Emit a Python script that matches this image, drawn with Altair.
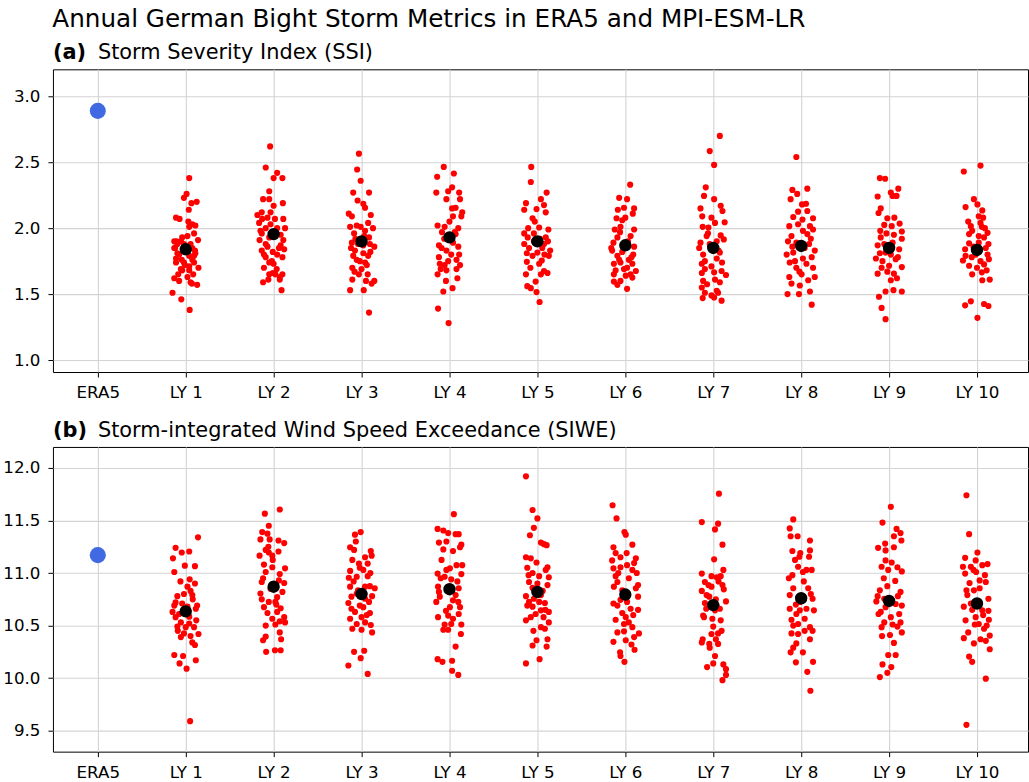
import altair as alt
import pandas as pd

categories = ["ERA5", "LY 1", "LY 2", "LY 3", "LY 4", "LY 5", "LY 6", "LY 7", "LY 8", "LY 9", "LY 10"]
main_title = "Annual German Bight Storm Metrics in ERA5 and MPI-ESM-LR"
panel_tags = ["(a)", "(b)"]
panel_names = ["Storm Severity Index (SSI)", "Storm-integrated Wind Speed Exceedance (SIWE)"]

era5_ssi = 2.89
era5_siwe = 11.17
mean_ssi = [1.84, 1.955, 1.90, 1.93, 1.90, 1.87, 1.85, 1.865, 1.85, 1.835]
mean_siwe = [10.635, 10.87, 10.80, 10.846, 10.82, 10.795, 10.695, 10.76, 10.734, 10.71]

# (jitter offset in category units, value)
ssi_ly1 = [(0.04,2.38),(0.01,2.26),(-0.02,2.23),(0.125,2.20),(0.065,2.19),(0.035,2.14),(-0.11,2.08),(-0.07,2.07),(0.03,2.05),(0.075,2.03),(0.11,2.02),(0.04,2.01),(0.095,1.96),(0.14,1.91),(-0.13,1.90),(-0.105,1.90),(-0.04,1.93),(0.02,1.94),(-0.12,1.85),(0.055,1.88),(0.105,1.83),(-0.075,1.80),(0.04,1.79),(0.075,1.76),(-0.11,1.74),(-0.02,1.74),(-0.055,1.69),(0.095,1.74),(0.145,1.70),(0.04,1.68),(-0.04,1.68),(0.085,1.65),(-0.13,1.62),(-0.075,1.60),(0.02,1.63),(0.055,1.59),(0.13,1.57),(-0.15,1.51),(-0.05,1.46),(0.045,1.38),(-0.095,1.81),(0.01,1.83),(-0.045,1.76),(-0.01,1.72),(0.04,1.71),(-0.085,1.65),(0.07,1.58),(-0.13,1.85),(-0.095,1.88),(-0.055,1.90),(0.095,1.79),(0.11,1.81),(-0.02,1.88),(0.075,1.85),(-0.11,1.77)]
ssi_ly2 = [(-0.04,2.62),(-0.09,2.46),(0.04,2.42),(0.10,2.38),(0.0,2.38),(-0.05,2.28),(-0.12,2.22),(-0.05,2.22),(0.105,2.19),(0.0,2.17),(-0.135,2.12),(-0.035,2.12),(0.11,2.07),(-0.13,2.07),(-0.07,2.08),(0.015,2.07),(-0.165,2.04),(0.13,2.00),(-0.09,2.00),(-0.135,1.96),(0.08,1.95),(0.11,1.91),(-0.05,1.93),(-0.09,1.88),(0.08,1.87),(-0.135,1.83),(-0.01,1.82),(0.04,1.80),(0.10,1.78),(-0.09,1.78),(-0.05,1.74),(-0.02,1.75),(-0.11,1.70),(0.035,1.69),(0.10,1.65),(-0.05,1.65),(-0.01,1.66),(0.07,1.63),(-0.06,1.61),(-0.12,1.59),(0.07,1.61),(0.09,1.53),(-0.185,2.10),(-0.035,2.03),(0.04,2.00),(-0.16,1.91),(-0.11,1.80),(0.0,1.73),(0.02,1.65),(-0.15,1.98),(0.06,1.85),(-0.07,1.86),(0.12,1.84),(-0.02,1.96)]
ssi_ly3 = [(-0.03,2.565),(-0.05,2.445),(-0.01,2.36),(-0.095,2.27),(0.085,2.27),(-0.045,2.21),(0.02,2.185),(0.04,2.155),(-0.145,2.11),(-0.11,2.09),(0.105,2.10),(0.075,2.04),(-0.055,2.02),(-0.13,2.01),(0.13,2.00),(-0.085,1.96),(0.04,1.98),(0.085,1.93),(-0.11,1.89),(0.145,1.86),(-0.075,1.83),(0.02,1.81),(0.075,1.79),(-0.055,1.76),(0.04,1.74),(-0.105,1.70),(0.0,1.69),(0.07,1.65),(-0.03,1.65),(-0.105,1.61),(0.05,1.60),(0.145,1.60),(0.115,1.58),(-0.13,1.53),(0.025,1.53),(0.085,1.36),(-0.01,2.01),(-0.04,1.88),(0.095,1.88),(-0.095,1.79),(-0.02,1.75),(0.02,1.87),(-0.07,1.92),(0.06,1.72),(-0.08,1.67),(0.10,1.82),(-0.12,1.85),(0.03,1.94)]
ssi_ly4 = [(-0.065,2.465),(0.05,2.415),(-0.14,2.39),(-0.15,2.27),(-0.015,2.28),(0.03,2.31),(-0.035,2.22),(0.11,2.27),(0.12,2.22),(0.07,2.155),(0.145,2.12),(0.135,2.09),(0.04,2.09),(-0.135,2.02),(-0.055,2.01),(0.10,2.00),(0.07,1.955),(-0.06,1.92),(-0.12,1.87),(0.10,1.86),(-0.035,1.83),(0.02,1.80),(-0.12,1.78),(0.08,1.76),(0.12,1.72),(-0.11,1.73),(-0.135,1.65),(-0.035,1.68),(0.08,1.69),(0.035,1.545),(-0.07,1.52),(-0.13,1.39),(-0.01,1.28),(-0.085,1.97),(0.04,1.89),(-0.015,1.75),(-0.055,1.72),(0.06,1.97),(-0.09,1.85),(0.11,1.80),(0.0,2.05),(-0.10,1.69),(0.09,1.62),(0.03,2.15),(-0.04,1.60)]
ssi_ly5 = [(-0.07,2.465),(-0.075,2.35),(0.105,2.27),(-0.13,2.19),(0.04,2.22),(0.075,2.175),(-0.15,2.14),(-0.01,2.145),(0.095,2.12),(-0.055,2.075),(-0.105,2.0),(0.02,2.005),(0.125,1.99),(-0.15,1.96),(0.095,1.93),(-0.04,1.96),(-0.15,1.88),(0.075,1.88),(0.145,1.83),(-0.12,1.81),(0.0,1.815),(0.13,1.79),(0.05,1.755),(-0.12,1.745),(-0.055,1.79),(-0.13,1.65),(0.075,1.675),(0.115,1.66),(-0.02,1.595),(-0.115,1.56),(-0.075,1.545),(-0.01,1.515),(0.025,1.44),(-0.04,1.90),(0.055,1.85),(-0.095,1.85),(0.02,1.73),(0.04,1.65),(0.03,1.92),(-0.08,1.70),(0.12,1.90),(-0.03,2.05),(0.08,1.80),(-0.11,1.93)]
ssi_ly6 = [(0.055,2.33),(-0.07,2.23),(0.02,2.22),(0.10,2.15),(-0.085,2.14),(-0.015,2.155),(0.085,2.11),(-0.10,2.075),(-0.035,2.06),(-0.055,2.01),(-0.12,1.99),(0.10,1.99),(0.06,1.94),(-0.09,1.93),(-0.135,1.89),(0.10,1.86),(-0.15,1.83),(-0.035,1.82),(-0.09,1.79),(0.04,1.76),(-0.055,1.74),(0.08,1.73),(0.12,1.675),(-0.13,1.65),(0.005,1.64),(0.08,1.625),(-0.055,1.60),(-0.13,1.595),(-0.09,1.57),(0.02,1.54),(-0.16,1.85),(-0.07,1.76),(0.02,1.70),(0.06,1.65),(-0.13,1.73),(-0.015,1.69),(0.03,1.90),(-0.06,1.97),(0.09,1.80),(-0.11,1.68),(0.0,2.08),(0.07,1.78)]
ssi_ly7 = [(0.075,2.70),(-0.04,2.585),(0.01,2.48),(-0.085,2.31),(-0.105,2.245),(0.01,2.22),(-0.145,2.15),(0.085,2.17),(-0.125,2.09),(-0.02,2.08),(0.105,2.13),(0.13,2.045),(0.02,2.04),(-0.12,2.01),(-0.075,1.94),(0.085,1.945),(-0.145,1.89),(0.12,1.915),(0.04,1.90),(-0.16,1.85),(-0.115,1.80),(0.075,1.815),(0.04,1.77),(-0.13,1.73),(-0.095,1.69),(0.01,1.665),(0.095,1.675),(0.145,1.645),(-0.115,1.60),(0.075,1.59),(-0.13,1.55),(-0.095,1.51),(0.04,1.525),(-0.12,1.47),(0.01,1.475),(0.095,1.45),(0.055,1.51),(-0.055,2.005),(-0.04,1.88),(-0.095,1.75),(-0.02,1.71),(0.02,1.61),(-0.07,1.575),(-0.02,1.49),(0.06,1.83),(-0.13,1.66),(0.10,1.74),(-0.06,1.96)]
ssi_ly8 = [(-0.055,2.54),(-0.10,2.29),(0.07,2.30),(-0.045,2.26),(-0.12,2.22),(0.01,2.18),(0.055,2.185),(-0.035,2.125),(0.07,2.13),(-0.09,2.085),(0.135,2.075),(0.015,2.065),(-0.135,2.015),(-0.035,2.03),(0.10,2.015),(0.135,1.99),(-0.11,1.94),(0.02,1.98),(0.07,1.955),(-0.15,1.90),(0.155,1.83),(-0.09,1.815),(0.12,1.78),(-0.13,1.74),(0.06,1.73),(0.135,1.70),(-0.055,1.70),(0.005,1.65),(-0.135,1.63),(0.155,1.63),(0.08,1.605),(-0.11,1.58),(-0.015,1.565),(0.10,1.52),(-0.155,1.50),(-0.025,1.50),(0.12,1.42),(-0.055,1.89),(0.04,1.85),(-0.07,1.75),(-0.165,1.80),(0.02,1.77),(0.09,1.88),(-0.10,1.86),(0.11,1.92),(-0.02,1.67)]
ssi_ly9 = [(-0.105,2.38),(-0.045,2.375),(0.105,2.30),(0.02,2.27),(0.085,2.245),(-0.13,2.24),(0.04,2.245),(-0.095,2.15),(-0.12,2.115),(-0.02,2.075),(-0.055,2.025),(0.12,2.035),(0.03,2.015),(-0.095,1.93),(0.055,1.95),(0.145,1.975),(0.145,1.92),(-0.13,1.87),(0.115,1.84),(-0.04,1.815),(-0.105,1.81),(0.075,1.765),(-0.075,1.75),(-0.13,1.655),(0.145,1.705),(0.0,1.715),(0.055,1.655),(0.02,1.605),(-0.04,1.52),(0.05,1.53),(0.145,1.52),(-0.115,1.48),(-0.085,1.395),(-0.04,1.31),(0.04,1.89),(-0.055,1.88),(-0.02,1.67),(-0.085,1.70),(0.02,1.80),(0.10,1.78),(-0.10,1.98),(0.06,2.08),(-0.15,1.77),(0.09,1.62),(-0.03,1.96)]
ssi_ly10 = [(0.04,2.475),(-0.15,2.43),(-0.035,2.22),(-0.13,2.16),(0.005,2.18),(0.06,2.135),(0.02,2.09),(0.07,2.08),(-0.07,2.015),(0.04,2.04),(0.12,1.965),(0.055,2.01),(-0.09,1.955),(0.08,1.93),(0.13,1.88),(-0.09,1.885),(0.02,1.89),(-0.135,1.84),(0.12,1.80),(0.135,1.765),(-0.16,1.755),(-0.09,1.715),(0.08,1.725),(0.055,1.665),(-0.055,1.65),(0.06,1.605),(0.145,1.61),(-0.135,1.415),(-0.07,1.445),(0.08,1.425),(0.13,1.41),(0.005,1.32),(-0.055,1.98),(-0.015,1.80),(0.04,1.75),(-0.13,1.79),(0.10,1.85),(-0.04,1.86),(0.02,1.94),(-0.10,2.05),(0.09,2.00),(0.0,1.70),(-0.06,1.78),(0.11,1.68)]

siwe_ly1 = [(0.14,11.34),(-0.115,11.24),(-0.045,11.195),(0.04,11.205),(-0.145,11.14),(-0.01,11.07),(0.105,11.065),(-0.13,11.01),(0.045,10.94),(0.105,10.90),(0.02,10.87),(-0.095,10.78),(0.055,10.83),(0.075,10.79),(-0.13,10.69),(0.13,10.69),(-0.15,10.63),(0.115,10.66),(-0.115,10.58),(0.04,10.585),(-0.055,10.53),(-0.095,10.49),(0.095,10.485),(0.145,10.42),(-0.02,10.425),(0.055,10.40),(0.075,10.34),(0.105,10.315),(-0.13,10.22),(-0.03,10.21),(-0.07,10.14),(0.01,10.09),(0.115,10.17),(0.05,9.59),(-0.04,10.71),(0.02,10.68),(-0.075,10.61),(0.0,10.485),(-0.055,10.39),(0.04,10.52),(-0.02,10.80),(-0.115,10.72),(0.08,10.75),(-0.09,10.45),(0.12,10.55),(-0.06,10.92)]
siwe_ly2 = [(0.07,11.605),(-0.10,11.565),(-0.055,11.45),(-0.07,11.375),(-0.13,11.39),(-0.15,11.32),(-0.045,11.32),(0.055,11.31),(0.12,11.285),(-0.09,11.22),(-0.055,11.195),(-0.16,11.165),(-0.015,11.165),(0.055,11.205),(-0.11,11.08),(-0.015,11.055),(0.13,11.045),(-0.09,11.01),(0.07,10.99),(-0.135,10.915),(0.12,10.905),(0.06,10.93),(-0.135,10.75),(-0.055,10.725),(0.04,10.77),(-0.11,10.675),(0.02,10.725),(0.08,10.665),(-0.07,10.62),(0.12,10.58),(-0.015,10.565),(0.07,10.54),(0.13,10.53),(-0.09,10.50),(0.02,10.51),(0.07,10.435),(-0.09,10.395),(-0.12,10.36),(0.085,10.37),(-0.085,10.25),(0.015,10.265),(0.08,10.265),(-0.035,10.85),(-0.15,10.805),(0.04,10.63),(-0.01,11.125),(-0.06,11.25),(0.10,10.82),(-0.12,10.95),(0.03,10.70)]
siwe_ly3 = [(-0.01,11.39),(-0.075,11.365),(-0.065,11.30),(-0.13,11.245),(-0.085,11.22),(0.105,11.21),(0.115,11.165),(-0.105,11.125),(0.04,11.15),(-0.03,11.09),(0.07,11.09),(-0.13,11.02),(0.02,11.03),(-0.145,10.955),(0.07,10.97),(-0.055,10.965),(-0.13,10.87),(0.15,10.855),(0.095,10.875),(-0.115,10.775),(-0.055,10.805),(0.04,10.755),(-0.15,10.715),(0.085,10.725),(-0.075,10.63),(0.02,10.675),(0.095,10.62),(-0.13,10.565),(0.0,10.58),(-0.055,10.515),(0.105,10.505),(-0.105,10.47),(0.0,10.46),(0.12,10.435),(-0.085,10.25),(0.03,10.26),(-0.01,10.19),(-0.15,10.12),(0.07,10.04),(-0.04,10.835),(0.04,10.87),(-0.02,10.69),(-0.115,10.66),(0.04,10.53),(0.10,11.0),(-0.09,10.92),(0.06,10.60),(-0.02,11.05),(0.12,10.78)]
siwe_ly4 = [(0.05,11.56),(-0.135,11.42),(-0.07,11.405),(-0.015,11.38),(0.07,11.37),(0.105,11.37),(-0.12,11.29),(-0.035,11.30),(0.135,11.27),(0.12,11.245),(-0.07,11.225),(0.04,11.21),(0.08,11.075),(0.145,11.075),(0.005,11.045),(-0.135,10.995),(-0.055,10.965),(0.135,10.99),(-0.10,10.95),(0.02,10.94),(-0.13,10.87),(0.105,10.855),(0.07,10.79),(-0.15,10.725),(-0.11,10.775),(0.10,10.725),(0.005,10.675),(0.12,10.675),(-0.13,10.58),(-0.015,10.595),(0.04,10.565),(0.105,10.61),(-0.055,10.51),(0.02,10.515),(0.135,10.51),(-0.07,10.46),(-0.015,10.46),(0.13,10.42),(0.07,10.30),(-0.135,10.18),(-0.08,10.155),(0.03,10.165),(0.03,10.07),(0.10,10.03),(-0.035,11.03),(-0.09,11.125),(0.04,10.74),(-0.12,10.82),(0.09,10.92),(-0.04,10.64)]
siwe_ly5 = [(-0.13,11.92),(-0.055,11.60),(0.0,11.52),(-0.04,11.43),(-0.085,11.36),(0.04,11.29),(0.105,11.265),(0.075,11.275),(-0.13,11.15),(-0.075,11.14),(-0.01,11.10),(-0.115,11.05),(0.115,11.055),(0.095,11.03),(-0.055,11.0),(0.02,10.97),(0.13,10.96),(-0.095,10.915),(0.115,10.885),(-0.055,10.86),(-0.13,10.78),(0.04,10.79),(-0.095,10.725),(0.085,10.715),(-0.055,10.68),(0.13,10.63),(-0.13,10.55),(-0.075,10.58),(0.04,10.645),(0.07,10.58),(0.13,10.53),(-0.045,10.45),(0.085,10.47),(-0.01,10.36),(0.115,10.37),(-0.055,10.31),(0.105,10.30),(0.025,10.18),(-0.13,10.14),(-0.04,10.755),(0.02,10.725),(-0.115,10.69),(-0.02,10.61),(0.04,10.485),(0.06,10.83),(-0.10,10.98),(0.0,10.90),(0.09,10.65)]
siwe_ly6 = [(-0.145,11.645),(-0.10,11.52),(-0.01,11.39),(0.005,11.365),(0.08,11.27),(-0.135,11.245),(-0.11,11.19),(0.015,11.19),(-0.055,11.15),(0.12,11.14),(-0.15,11.12),(0.10,11.095),(-0.135,11.045),(-0.055,11.055),(0.02,11.075),(0.08,11.03),(0.13,11.0),(-0.11,10.97),(0.04,10.95),(-0.09,10.915),(0.145,10.885),(-0.13,10.87),(-0.035,10.835),(0.12,10.855),(0.145,10.775),(-0.135,10.71),(-0.09,10.69),(0.06,10.66),(0.145,10.65),(-0.035,10.62),(-0.11,10.555),(0.04,10.53),(-0.015,10.515),(0.08,10.485),(0.155,10.425),(-0.09,10.435),(-0.015,10.445),(0.10,10.39),(-0.135,10.345),(0.005,10.36),(0.07,10.32),(0.105,10.27),(-0.06,10.245),(-0.055,10.21),(-0.01,10.155),(0.005,10.58),(-0.055,10.745),(0.02,10.725),(-0.08,11.0),(0.09,10.60)]
siwe_ly7 = [(0.065,11.755),(-0.13,11.485),(0.055,11.47),(0.02,11.415),(0.105,11.27),(0.01,11.13),(-0.13,10.995),(0.115,11.03),(-0.02,10.97),(0.04,10.96),(-0.095,10.915),(0.085,10.97),(0.105,10.885),(-0.13,10.83),(-0.055,10.885),(0.12,10.845),(-0.075,10.79),(-0.095,10.715),(0.145,10.73),(0.075,10.66),(0.04,10.68),(-0.115,10.595),(-0.01,10.565),(0.085,10.55),(-0.105,10.58),(0.0,10.49),(0.095,10.45),(-0.12,10.37),(0.055,10.425),(-0.13,10.34),(-0.045,10.325),(0.03,10.37),(0.055,10.325),(0.02,10.21),(-0.07,10.105),(0.0,10.14),(0.115,10.13),(0.145,10.085),(0.145,10.03),(0.105,9.98),(-0.02,10.87),(-0.045,10.775),(0.02,10.645),(-0.02,10.42),(-0.04,10.29),(0.06,10.92),(-0.08,10.66),(0.03,10.75)]
siwe_ly8 = [(-0.09,11.51),(-0.13,11.425),(-0.12,11.35),(-0.04,11.35),(0.10,11.31),(-0.10,11.21),(-0.01,11.19),(0.10,11.215),(-0.07,11.125),(-0.02,11.155),(0.09,11.155),(-0.035,11.06),(0.12,11.03),(-0.10,10.98),(0.02,11.01),(0.06,11.03),(-0.09,10.855),(-0.13,10.79),(0.13,10.755),(-0.13,10.66),(-0.015,10.645),(0.06,10.66),(0.145,10.645),(-0.11,10.555),(0.04,10.565),(-0.035,10.515),(0.10,10.485),(-0.09,10.50),(0.13,10.45),(-0.035,10.42),(-0.11,10.425),(0.10,10.37),(-0.09,10.29),(-0.12,10.245),(0.02,10.245),(-0.055,10.33),(-0.06,10.15),(0.07,10.06),(0.135,10.155),(0.105,9.88),(-0.015,10.725),(-0.055,10.61),(0.04,10.45),(0.08,10.855),(0.03,10.92),(-0.14,10.95),(0.11,10.80),(-0.06,10.70)]
siwe_ly9 = [(0.02,11.63),(-0.075,11.48),(0.085,11.42),(0.13,11.38),(0.055,11.35),(0.14,11.31),(-0.045,11.28),(-0.125,11.24),(-0.04,11.215),(0.055,11.245),(-0.04,11.12),(-0.085,11.06),(0.095,11.055),(-0.01,11.03),(0.145,11.015),(0.07,10.925),(-0.02,10.875),(-0.105,10.835),(0.13,10.82),(-0.145,10.73),(-0.055,10.755),(0.145,10.69),(-0.12,10.61),(0.115,10.61),(-0.055,10.53),(0.04,10.51),(0.13,10.53),(-0.085,10.485),(0.095,10.49),(0.01,10.41),(0.145,10.435),(0.055,10.335),(-0.01,10.22),(0.075,10.22),(-0.075,10.13),(0.025,10.105),(-0.02,10.05),(-0.105,10.01),(-0.095,10.63),(0.02,10.58),(-0.04,10.675),(0.075,10.705),(-0.13,10.78),(0.10,10.78),(-0.06,10.95),(0.03,11.10),(-0.08,10.40)]
siwe_ly10 = [(-0.12,11.74),(-0.09,11.37),(0.005,11.195),(-0.135,11.145),(-0.015,11.12),(-0.16,11.06),(-0.07,11.06),(0.12,11.085),(0.06,11.075),(-0.135,10.995),(-0.01,11.01),(-0.085,10.905),(0.03,10.93),(0.10,10.915),(-0.12,10.835),(-0.035,10.835),(0.03,10.855),(0.13,10.755),(-0.11,10.79),(-0.15,10.68),(-0.055,10.65),(0.13,10.64),(-0.015,10.58),(0.135,10.555),(-0.025,10.51),(0.08,10.47),(-0.10,10.435),(-0.15,10.38),(0.145,10.405),(0.04,10.37),(-0.035,10.33),(0.10,10.355),(0.145,10.275),(-0.09,10.205),(-0.055,10.155),(0.10,9.995),(-0.12,9.555),(-0.07,10.71),(0.06,10.645),(0.02,10.515),(0.09,10.98),(-0.04,11.03),(0.07,10.60),(-0.13,10.55),(0.11,10.50)]

ssi_members = [ssi_ly1, ssi_ly2, ssi_ly3, ssi_ly4, ssi_ly5, ssi_ly6, ssi_ly7, ssi_ly8, ssi_ly9, ssi_ly10]
siwe_members = [siwe_ly1, siwe_ly2, siwe_ly3, siwe_ly4, siwe_ly5, siwe_ly6, siwe_ly7, siwe_ly8, siwe_ly9, siwe_ly10]

FONT = "DejaVu Sans"
label_js = "[" + ",".join("'" + c + "'" for c in categories) + "][datum.value]"
PW = 976
HEAD_SIZE = 20.9
GAP = 16


def panel(members, means, era5, tag, name, ydomain, yticks, height):
    rows = []
    for i, pts in enumerate(members, start=1):
        for dx, v in pts:
            rows.append({"x": i + dx, "y": v})
    df_m = pd.DataFrame(rows)
    df_mean = pd.DataFrame({"x": list(range(1, len(means) + 1)), "y": means})
    df_era = pd.DataFrame({"x": [0], "y": [era5]})

    xs = alt.Scale(domain=[-0.51, 10.58], nice=False, zero=False)
    ys = alt.Scale(domain=ydomain, nice=False, zero=False)
    xax = alt.Axis(values=list(range(len(categories))), labelExpr=label_js, title=None,
                   grid=True, domain=False, labelAngle=0)
    yax = alt.Axis(values=yticks, format=".1f", title=None, grid=True, domain=False,
                   minExtent=50, maxExtent=50)

    base_x = alt.X("x:Q", scale=xs, axis=xax)
    base_y = alt.Y("y:Q", scale=ys, axis=yax)

    pts = alt.Chart(df_m).mark_circle(color="#ff0000", size=38, opacity=1).encode(x=base_x, y=base_y)
    mn = alt.Chart(df_mean).mark_circle(color="#000000", size=154, opacity=1).encode(x=base_x, y=base_y)
    er = alt.Chart(df_era).mark_circle(color="#4169e1", size=260, opacity=1).encode(x=base_x, y=base_y)
    t1 = alt.Chart(pd.DataFrame({"t": [tag]})).mark_text(
        align="left", baseline="alphabetic", font=FONT, fontSize=HEAD_SIZE, fontWeight="bold", color="black"
    ).encode(x=alt.value(0), y=alt.value(-10), text="t:N")
    t2 = alt.Chart(pd.DataFrame({"t": [name]})).mark_text(
        align="left", baseline="alphabetic", font=FONT, fontSize=HEAD_SIZE, color="black"
    ).encode(x=alt.value(45), y=alt.value(-10), text="t:N")
    return alt.layer(pts, mn, er, t1, t2).properties(width=PW, height=height)


pa = panel(ssi_members, mean_ssi, era5_ssi, panel_tags[0], panel_names[0],
           [0.909, 3.205], [1.0, 1.5, 2.0, 2.5, 3.0], 303)
pb = panel(siwe_members, mean_siwe, era5_siwe, panel_tags[1], panel_names[1],
           [9.30, 12.20], [9.5, 10.0, 10.5, 11.0, 11.5, 12.0], 305)

chart = alt.vconcat(pa, pb, spacing=GAP).properties(
    title=alt.TitleParams(main_title, anchor="start", font=FONT, fontSize=24.7, fontWeight="normal",
                          color="black", dx=50, offset=10),
    padding={"left": 2, "top": 6, "right": 0, "bottom": 0},
).configure_view(stroke="black", strokeWidth=1).configure_axis(
    gridColor="#d3d3d3", gridWidth=1.1, tickColor="black", tickSize=5, tickWidth=1,
    labelFont=FONT, labelFontSize=16.7, labelColor="black", labelPadding=8
).configure_concat(spacing=GAP)

chart.save("out.html", embed_options={"renderer": "svg", "actions": False})
